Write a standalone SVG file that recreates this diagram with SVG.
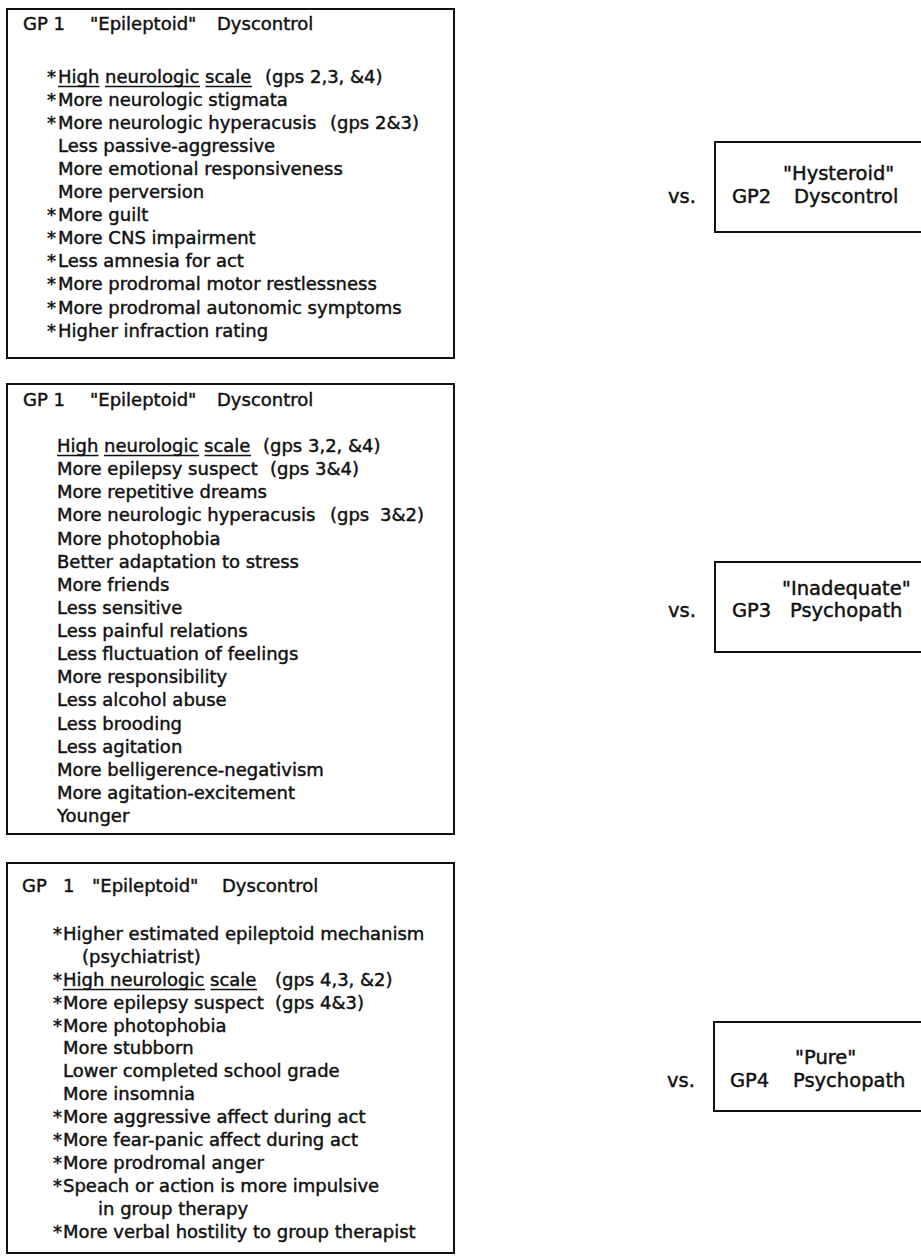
<svg xmlns="http://www.w3.org/2000/svg" width="921" height="1256" viewBox="0 0 921 1256">
<style>
text{font-family:"DejaVu Sans","Liberation Sans",sans-serif;font-size:18px;fill:#111;stroke:#111;stroke-width:0.45}
.r{font-size:19.5px}
.box{fill:#fff;stroke:#111;stroke-width:2}
.ul{stroke:#111;stroke-width:1.5}
</style>
<rect width="921" height="1256" fill="#fff"/>
<g id="gp1-vs-gp2">
<rect class="box" x="7" y="9" width="447" height="349"/>
<text x="23" y="30">GP 1<tspan x="90">"Epileptoid"</tspan><tspan x="217">Dyscontrol</tspan></text>
<text x="47" y="83">*<tspan x="58">High neurologic scale</tspan><tspan x="265">(gps 2,3, &amp;4)</tspan></text>
<line class="ul" x1="58" y1="86.5" x2="99.5" y2="86.5"/><line class="ul" x1="105" y1="86.5" x2="200" y2="86.5"/><line class="ul" x1="205.5" y1="86.5" x2="252" y2="86.5"/>
<text x="47" y="106">*<tspan x="58">More neurologic stigmata</tspan></text>
<text x="47" y="129">*<tspan x="58">More neurologic hyperacusis</tspan><tspan x="330">(gps 2&amp;3)</tspan></text>
<text x="58" y="152">Less passive-aggressive</text>
<text x="58" y="175">More emotional responsiveness</text>
<text x="58" y="198">More perversion</text>
<text x="47" y="221">*<tspan x="58">More guilt</tspan></text>
<text x="47" y="244">*<tspan x="58">More CNS impairment</tspan></text>
<text x="47" y="267">*<tspan x="58">Less amnesia for act</tspan></text>
<text x="47" y="290">*<tspan x="58">More prodromal motor restlessness</tspan></text>
<text x="47" y="314">*<tspan x="58">More prodromal autonomic symptoms</tspan></text>
<text x="47" y="337">*<tspan x="58">Higher infraction rating</tspan></text>
</g>
<g id="gp1-vs-gp3">
<rect class="box" x="7" y="384" width="447" height="450"/>
<text x="23" y="406">GP 1<tspan x="90">"Epileptoid"</tspan><tspan x="217">Dyscontrol</tspan></text>
<text x="57" y="452">High neurologic scale<tspan x="263">(gps 3,2, &amp;4)</tspan></text>
<line class="ul" x1="57" y1="455.5" x2="98.5" y2="455.5"/><line class="ul" x1="104" y1="455.5" x2="199" y2="455.5"/><line class="ul" x1="204.5" y1="455.5" x2="251" y2="455.5"/>
<text x="57" y="475">More epilepsy suspect<tspan x="270">(gps 3&amp;4)</tspan></text>
<text x="57" y="498">More repetitive dreams</text>
<text x="57" y="521">More neurologic hyperacusis<tspan x="330">(gps</tspan><tspan x="380">3&amp;2)</tspan></text>
<text x="57" y="545">More photophobia</text>
<text x="57" y="568">Better adaptation to stress</text>
<text x="57" y="591">More friends</text>
<text x="57" y="614">Less sensitive</text>
<text x="57" y="637">Less painful relations</text>
<text x="57" y="660">Less fluctuation of feelings</text>
<text x="57" y="683">More responsibility</text>
<text x="57" y="706">Less alcohol abuse</text>
<text x="57" y="730">Less brooding</text>
<text x="57" y="753">Less agitation</text>
<text x="57" y="776">More belligerence-negativism</text>
<text x="57" y="799">More agitation-excitement</text>
<text x="57" y="822">Younger</text>
</g>
<g id="gp1-vs-gp4">
<rect class="box" x="7" y="863" width="447" height="390"/>
<text x="22" y="892">GP<tspan x="63">1</tspan><tspan x="92">"Epileptoid"</tspan><tspan x="222">Dyscontrol</tspan></text>
<text x="53" y="940">*<tspan x="63">Higher estimated epileptoid mechanism</tspan></text>
<text x="82" y="963">(psychiatrist)</text>
<text x="53" y="986">*<tspan x="63">High neurologic scale</tspan><tspan x="275">(gps 4,3, &amp;2)</tspan></text>
<line class="ul" x1="63" y1="989.5" x2="205" y2="989.5"/><line class="ul" x1="210.5" y1="989.5" x2="257" y2="989.5"/>
<text x="53" y="1009">*<tspan x="63">More epilepsy suspect</tspan><tspan x="275">(gps 4&amp;3)</tspan></text>
<text x="53" y="1032">*<tspan x="63">More photophobia</tspan></text>
<text x="63" y="1054">More stubborn</text>
<text x="63" y="1077">Lower completed school grade</text>
<text x="63" y="1100">More insomnia</text>
<text x="53" y="1123">*<tspan x="63">More aggressive affect during act</tspan></text>
<text x="53" y="1146">*<tspan x="63">More fear-panic affect during act</tspan></text>
<text x="53" y="1169">*<tspan x="63">More prodromal anger</tspan></text>
<text x="53" y="1192">*<tspan x="63">Speach or action is more impulsive</tspan></text>
<text x="98" y="1215">in group therapy</text>
<text x="53" y="1238">*<tspan x="63">More verbal hostility to group therapist</tspan></text>
</g>
<g id="gp2">
<text class="r" x="668" y="203">vs.</text>
<rect class="box" x="715" y="142" width="215" height="90"/>
<text class="r" x="783" y="180">"Hysteroid"</text>
<text class="r" x="732" y="203">GP2<tspan x="794">Dyscontrol</tspan></text>
</g>
<g id="gp3">
<text class="r" x="668" y="617">vs.</text>
<rect class="box" x="715" y="562" width="215" height="90"/>
<text class="r" x="782" y="595">"Inadequate"</text>
<text class="r" x="732" y="617">GP3<tspan x="790">Psychopath</tspan></text>
</g>
<g id="gp4">
<text class="r" x="667" y="1087">vs.</text>
<rect class="box" x="714" y="1022" width="216" height="89"/>
<text class="r" x="795" y="1064">"Pure"</text>
<text class="r" x="730" y="1087">GP4<tspan x="793">Psychopath</tspan></text>
</g>
<g id="connectors"></g>
</svg>
